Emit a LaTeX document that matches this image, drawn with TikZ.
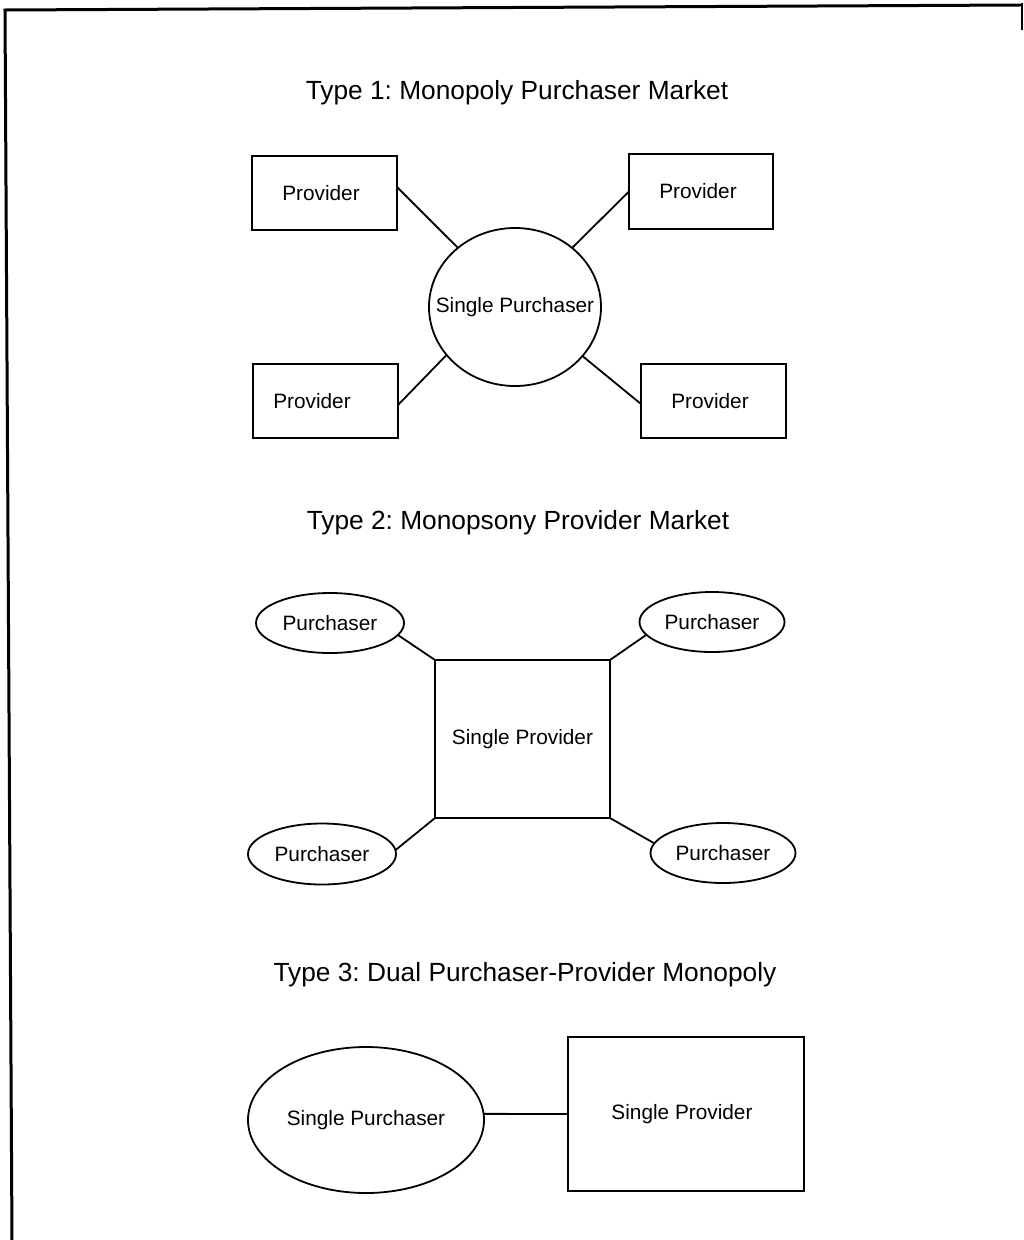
\documentclass[tikz,border=0pt]{standalone}
\usepackage{fontspec}
\setmainfont{Liberation Sans}
\usetikzlibrary{shapes.geometric}
\frenchspacing

\tikzset{
  every node/.style={inner sep=0pt, outer sep=0pt},
  heading/.style={font=\fontsize{26.3}{31}\selectfont},
  provbox/.style={draw, line width=1.8, rectangle, font=\fontsize{20.8}{24}\selectfont},
  purch/.style={draw, line width=1.8, ellipse, font=\fontsize{20.8}{24}\selectfont},
  link/.style={line width=1.8},
  frameline/.style={line width=3, line cap=round}
}

\begin{document}
\begin{tikzpicture}[x=1pt, y=-1pt]
\useasboundingbox (0,0) rectangle (1024,1240);

% page frame
\draw[frameline] (12,1240) -- (5,10) -- (1020,5);
\draw[line width=2] (1022,3) -- (1022,30);

% ---------- Type 1 ----------
\node[heading] (t1) at (517,93) {Type 1: Monopoly Purchaser Market};

\node[purch, minimum width=172, minimum height=158] (sp) at (515,307)
  {\makebox[0pt]{Single Purchaser}};

\node[provbox, minimum width=145, minimum height=74] (p1) at (324.5,193)
  {\makebox[0pt]{\hspace*{-7pt}Provider}};
\node[provbox, minimum width=144, minimum height=75] (p2) at (701,191.5)
  {\makebox[0pt]{\hspace*{-6pt}Provider}};
\node[provbox, minimum width=145, minimum height=74] (p3) at (325.5,401)
  {\makebox[0pt]{\hspace*{-27pt}Provider}};
\node[provbox, minimum width=145, minimum height=74] (p4) at (713.5,401)
  {\makebox[0pt]{\hspace*{-7pt}Provider}};

\draw[link] ([yshift=6]p1.east) -- (sp.134);
\draw[link] (p2.west) -- (sp.46.5);
\draw[link] ([yshift=-4]p3.east) -- (sp.215);
\draw[link] ([yshift=-3]p4.west) -- (sp.324);

% ---------- Type 2 ----------
\node[heading] (t2) at (518,523) {Type 2: Monopsony Provider Market};

\node[provbox, minimum width=175, minimum height=158] (sq) at (522.5,739)
  {\makebox[0pt]{Single Provider}};

\node[purch, minimum width=148, minimum height=60] (q1) at (330,623)
  {\makebox[0pt]{Purchaser}};
\node[purch, minimum width=145, minimum height=60] (q2) at (712,622)
  {\makebox[0pt]{Purchaser}};
\node[purch, minimum width=148, minimum height=61] (q3) at (322,854)
  {\makebox[0pt]{Purchaser}};
\node[purch, minimum width=145, minimum height=60] (q4) at (723,853)
  {\makebox[0pt]{Purchaser}};

\draw[link] (q1.-10) -- (sq.north west);
\draw[link] (q2.191) -- (sq.north east);
\draw[link] (q3.3) -- (sq.south west);
\draw[link] (q4.172) -- (sq.south east);

% ---------- Type 3 ----------
\node[heading] (t3) at (525,975) {Type 3: Dual Purchaser-Provider Monopoly};

\node[purch, minimum width=236, minimum height=146] (sp2) at (366,1120)
  {\makebox[0pt]{Single Purchaser}};
\node[provbox, minimum width=236, minimum height=154] (sv2) at (686,1114)
  {\makebox[0pt]{\hspace*{-8pt}Single Provider}};

\draw[link] (sp2.3) -- (sv2.west);
\end{tikzpicture}
\end{document}
